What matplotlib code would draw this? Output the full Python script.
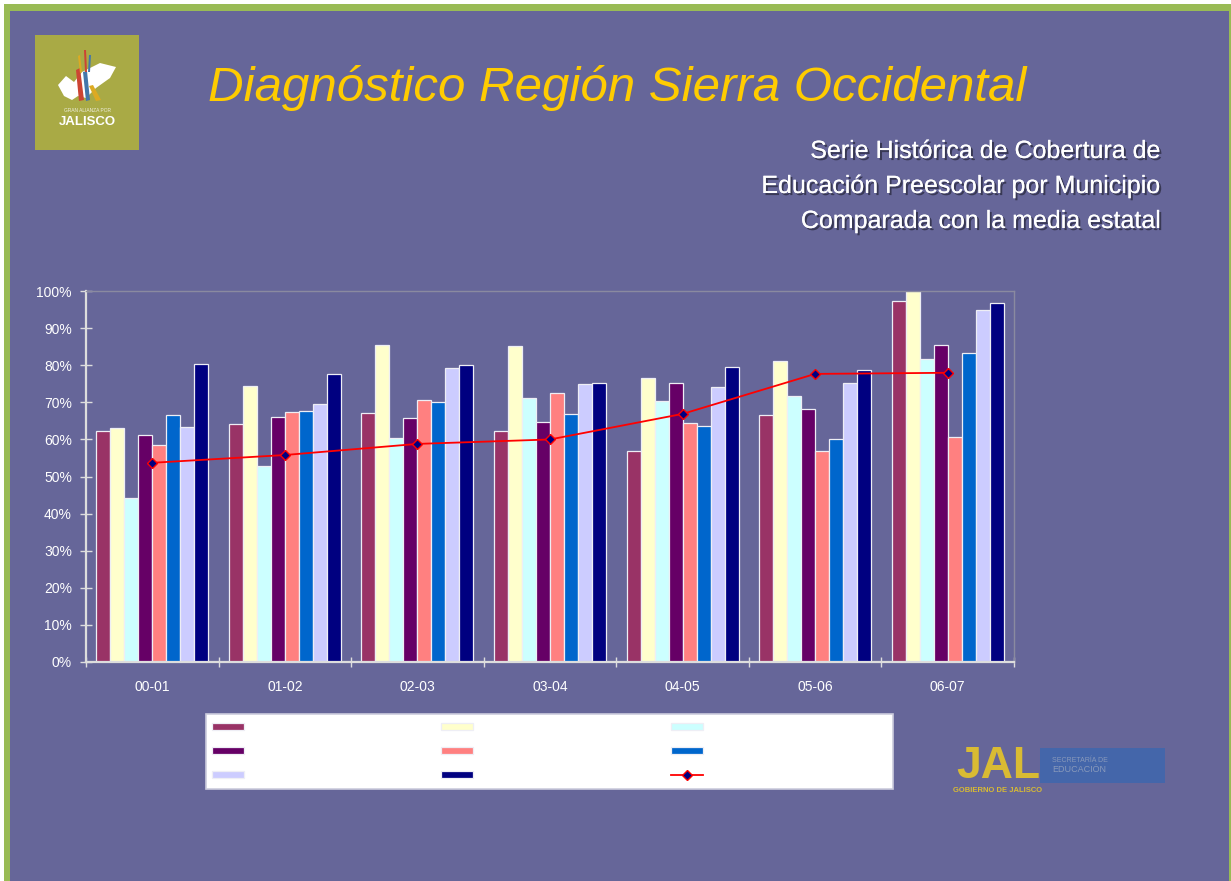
import matplotlib
matplotlib.use("Agg")
import matplotlib.pyplot as plt
import matplotlib.patheffects as pe
from matplotlib.patches import Rectangle, Polygon
from matplotlib.ticker import FuncFormatter
import numpy as np

W, H = 1231, 881

# ciclos escolares
years = ["00-01", "01-02", "02-03", "03-04", "04-05", "05-06", "06-07"]

# cobertura (%) por municipio
atenguillo = [62.2, 64.1, 67.1, 62.4, 57.0, 66.5, 97.3]
ayutla = [63.0, 74.4, 85.5, 85.1, 76.7, 81.1, 100.0]
cuautla = [44.3, 52.8, 60.5, 71.3, 70.3, 71.7, 81.7]
guachinango = [61.2, 66.1, 65.9, 64.8, 75.2, 68.2, 85.4]
mascota = [58.6, 67.5, 70.6, 72.6, 64.4, 57.0, 60.7]
mixtlan = [66.7, 67.8, 70.2, 66.9, 63.5, 60.0, 83.4]
san_sebastian = [63.3, 69.5, 79.4, 75.0, 74.1, 75.3, 95.0]
talpa = [80.5, 77.6, 80.0, 75.3, 79.6, 78.7, 96.9]
media_estatal = [53.7, 55.8, 58.8, 60.0, 66.9, 77.7, 78.0]

series = [atenguillo, ayutla, cuautla, guachinango, mascota, mixtlan, san_sebastian, talpa]
colors = ["#993366", "#FFFFCC", "#CCFFFF", "#660066", "#FF8080", "#0066CC", "#CCCCFF", "#000080"]

bg = "#666699"


def fx(px):
    return px / W


def fy(py):
    return 1 - py / H


def add_rect(x0, y0, x1, y1, color, z, ec="none", lw=0):
    # rectangle given in pixel coords of the slide (y down)
    fig.patches.append(Rectangle((fx(x0), fy(y1)), fx(x1 - x0), fy(y0) - fy(y1),
                                 transform=fig.transFigure, facecolor=color,
                                 edgecolor=ec, linewidth=lw, zorder=z))


fig = plt.figure(figsize=(W / 100, H / 100), dpi=100)
fig.patch.set_facecolor("white")

# slide background and green frame
add_rect(4, 4, W, H, "#99BB55", -3)
add_rect(10, 11, 1229, H, bg, -2)

# top-left logo
add_rect(35, 35, 139, 150, "#A9AA45", 1)
map_pts = [(58, 85), (66, 76), (74, 82), (82, 72), (100, 63), (116, 67), (110, 78),
           (96, 88), (86, 98), (78, 96), (72, 100), (64, 96)]
fig.patches.append(Polygon([(fx(a), fy(b)) for a, b in map_pts], closed=True,
                           transform=fig.transFigure, facecolor="white",
                           edgecolor="none", zorder=2))
strips = [("#CC4433", [(76, 70), (80, 68), (84, 100), (79, 101)]),
          ("#4477AA", [(83, 72), (87, 71), (90, 100), (86, 101)]),
          ("#DDAA22", [(89, 86), (93, 85), (101, 100), (96, 101)]),
          ("#DDAA22", [(78, 56), (80, 55), (82, 72), (80, 73)]),
          ("#CC4433", [(84, 50), (86, 50), (87, 72), (85, 72)]),
          ("#4477AA", [(89, 55), (91, 55), (90, 72), (88, 72)])]
for c, pts in strips:
    fig.patches.append(Polygon([(fx(a), fy(b)) for a, b in pts], closed=True,
                               transform=fig.transFigure, facecolor=c,
                               edgecolor="none", zorder=3))
fig.text(fx(87), fy(110), "GRAN ALIANZA POR", fontsize=3.5, color="#EEEEDD",
         ha="center", va="center", family="Liberation Sans")
fig.text(fx(87), fy(122), "JALISCO", fontsize=9.5, color="white", weight="bold",
         ha="center", va="center", family="Liberation Sans")

# titles
fig.text(fx(617), fy(88), "Diagnóstico Región Sierra Occidental", fontsize=35.5,
         color="#FFCC00", style="italic", ha="center", va="center",
         family=["Liberation Sans Narrow", "Liberation Sans"])
shadow = [pe.withSimplePatchShadow(offset=(1.5, -1.5), shadow_rgbFace="#33334D", alpha=0.9),
          pe.Normal()]
subtitle = ["Serie Histórica de Cobertura de",
            "Educación Preescolar por Municipio",
            "Comparada con la media estatal"]
for i, line in enumerate(subtitle):
    fig.text(fx(1160), fy(158 + 35 * i), line, fontsize=18, color="white",
             ha="right", va="baseline", family="Liberation Sans", path_effects=shadow)

# chart
ax = fig.add_axes([fx(86), fy(661.7), fx(928), (661.7 - 291.3) / H])
ax.set_zorder(2)
ax.set_facecolor(bg)
x = np.arange(len(years))
w = 0.1056
bars = []
for i, (vals, c) in enumerate(zip(series, colors)):
    b = ax.bar(x + (i - 3.5) * w, vals, w, color=c, edgecolor="#EEEEF5",
               linewidth=0.9, zorder=2)
    bars.append(b)
line, = ax.plot(x, media_estatal, color="#FF0000", lw=1.3, marker="D", ms=5.5,
                mfc="#000080", mec="#FF0000", mew=1.0, zorder=3)

ax.set_xlim(-0.5, len(years) - 0.5)
ax.set_ylim(0, 100)
ax.set_yticks(np.arange(0, 101, 10))
ax.yaxis.set_major_formatter(FuncFormatter(lambda v, p: f"{v:.0f}%"))
ax.set_xticks(np.arange(-0.5, len(years), 1))
ax.set_xticklabels([])
ax.set_xticks(x, minor=True)
ax.set_xticklabels(years, minor=True)
ax.tick_params(axis="y", direction="inout", length=8.4, width=1, color="#DDDDDD",
               labelcolor="white", labelsize=10, pad=6)
ax.tick_params(axis="x", which="major", direction="inout", length=7.2, width=1,
               color="#DDDDDD")
ax.tick_params(axis="x", which="minor", length=0, labelcolor="white", labelsize=10, pad=13)
for lab in ax.get_xticklabels(minor=True) + ax.get_yticklabels():
    lab.set_family("Liberation Sans")
for s in ["left", "bottom"]:
    ax.spines[s].set_color("#DDDDDD")
    ax.spines[s].set_linewidth(1.6)
for s in ["top", "right"]:
    ax.spines[s].set_color("#8A8AA0")
    ax.spines[s].set_linewidth(1.0)

# legend box (blank labels as in the original, row-wise order)
add_rect(206, 714, 893, 789, "white", 1, ec="#CCCCDD", lw=1.2)
handles = bars + [line]
order = [0, 3, 6, 1, 4, 7, 2, 5, 8]
leg = fig.legend([handles[k] for k in order], [""] * 9, ncol=3,
                 loc="upper left", bbox_to_anchor=(fx(206), fy(714)),
                 bbox_transform=fig.transFigure, borderaxespad=0, fontsize=10,
                 handlelength=2.3, handleheight=0.45, handletextpad=0,
                 columnspacing=14.2, labelspacing=0.73, borderpad=0.45,
                 frameon=False)
leg.set_zorder(3)

# bottom-right logo
add_rect(1040, 748, 1165, 783, "#4466AA", 1)
fig.text(fx(998), fy(766), "JAL", fontsize=32, color="#D9BB33", weight="bold",
         ha="center", va="center", family="Liberation Sans", zorder=2)
fig.text(fx(1052), fy(761), "SECRETARÍA DE", fontsize=5, color="#8899BB",
         ha="left", va="center", family="Liberation Sans", zorder=2)
fig.text(fx(1052), fy(770), "EDUCACIÓN", fontsize=6.5, color="#8899BB",
         ha="left", va="center", family="Liberation Sans", zorder=2)
fig.text(fx(998), fy(790), "GOBIERNO DE JALISCO", fontsize=5.5, color="#D9BB33",
         weight="bold", ha="center", va="center", family="Liberation Sans", zorder=2)

fig.savefig("out.png", dpi=100, facecolor=fig.get_facecolor())
